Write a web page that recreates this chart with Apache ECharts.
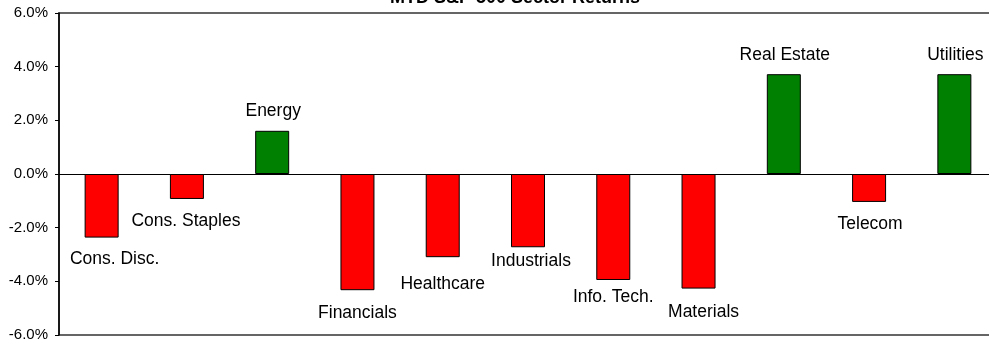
<!DOCTYPE html>
<html>
<head>
<meta charset="utf-8">
<script src="https://cdn.jsdelivr.net/npm/echarts@6/dist/echarts.min.js"></script>
<style>
html,body{margin:0;padding:0;background:#fff;overflow:hidden;width:989px;height:345px;}
#chart{width:1000px;height:345px;}
</style>
</head>
<body>
<div id="chart"></div>
<script>
// Data
var categories = ["Cons. Disc.", "Cons. Staples", "Energy", "Financials", "Healthcare", "Industrials", "Info. Tech.", "Materials", "Real Estate", "Telecom", "Utilities"];
var returnsPct = [-2.37, -0.93, 1.61, -4.33, -3.10, -2.73, -3.95, -4.27, 3.72, -1.04, 3.72];
var yTicks = [-6, -4, -2, 0, 2, 4, 6];
var chartTitle = "MTD S&P 500 Sector Returns";

// Layout (label nudges, px) kept apart from data
var labelNudges = [[13, 13], [-1, 13.5], [1, -10.5], [0, 13.5], [0, 18], [3, 4.75], [0, 8], [5, 15], [1, -10], [1, 13], [1, -10]];

var POS_COLOR = "#008000", NEG_COLOR = "#FF0000";
var FONT = "Arial, 'Liberation Sans', sans-serif";

var seriesData = returnsPct.map(function (v, i) {
  var neg = v < 0;
  return {
    value: v,
    itemStyle: { color: neg ? NEG_COLOR : POS_COLOR },
    label: {
      position: neg ? "bottom" : "top",
      distance: 0,
      offset: labelNudges[i]
    }
  };
});

var chart = echarts.init(document.getElementById("chart"), null, { renderer: "canvas" });
chart.setOption({
  animation: false,
  backgroundColor: "#ffffff",
  title: {
    text: chartTitle,
    left: 390,
    top: -11,
    padding: 0,
    textStyle: { fontFamily: FONT, fontSize: 18, fontWeight: "bold", color: "#000" }
  },
  grid: {
    left: 59, top: 13, width: 938, height: 322,
    show: true, borderColor: "#333", borderWidth: 1.5, backgroundColor: "transparent"
  },
  xAxis: {
    type: "category",
    data: categories,
    axisLine: { show: true, onZero: true, lineStyle: { color: "#000", width: 1 } },
    axisTick: { show: false },
    axisLabel: { show: false },
    splitLine: { show: false }
  },
  yAxis: {
    type: "value",
    min: yTicks[0],
    max: yTicks[yTicks.length - 1],
    interval: 2,
    axisLine: { show: true, onZero: false, lineStyle: { color: "#000", width: 1.5 } },
    axisTick: { show: true, inside: false, length: 4, lineStyle: { color: "#000", width: 1 } },
    axisLabel: {
      margin: 11,
      fontFamily: FONT, fontSize: 15, color: "#000",
      formatter: function (v) { return v.toFixed(1) + "%"; }
    },
    splitLine: { show: false }
  },
  series: [{
    type: "bar",
    data: seriesData,
    barWidth: 34,
    itemStyle: { borderColor: "#000", borderWidth: 1 },
    label: {
      show: true,
      fontFamily: FONT, fontSize: 17.5, color: "#000",
      formatter: function (p) { return p.name; }
    }
  }]
});
</script>
</body>
</html>
